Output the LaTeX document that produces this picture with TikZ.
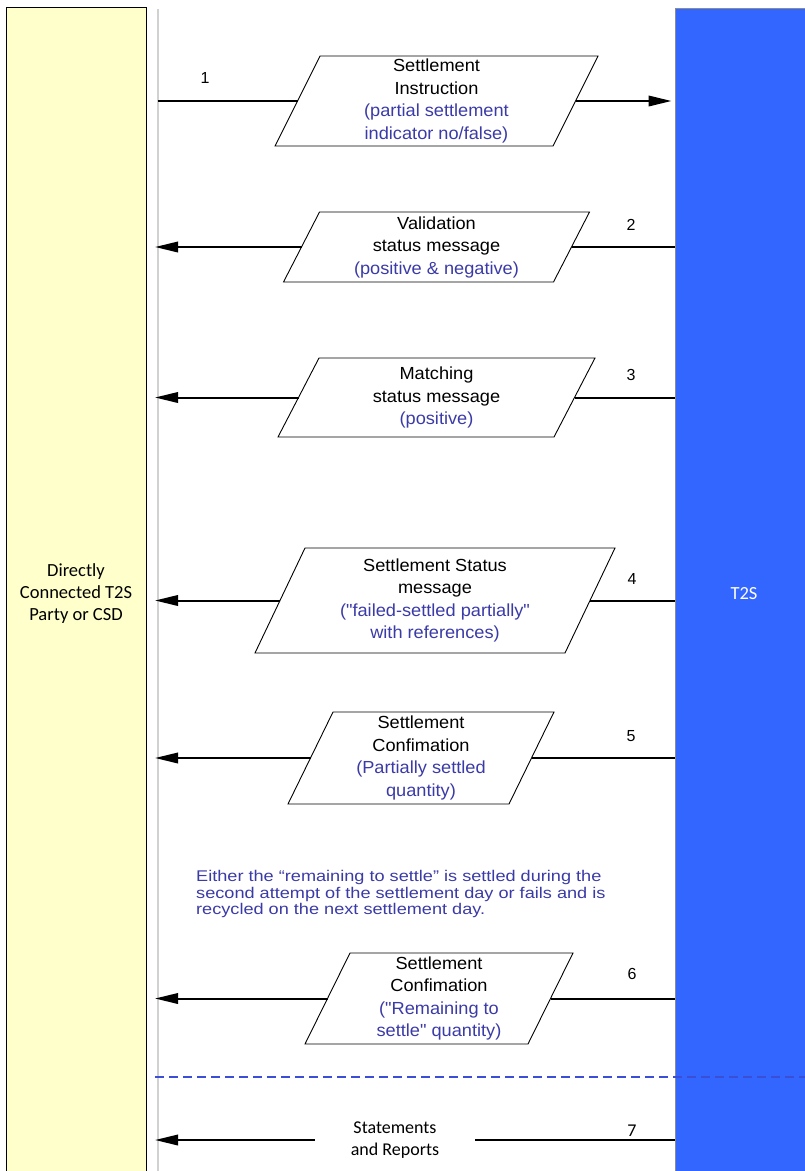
\documentclass[tikz,border=0pt]{standalone}
\usepackage{fontspec}
\setmainfont{Liberation Sans}
\newfontfamily\calib{Carlito}
\newfontfamily\arialw{Liberation Sans}[FakeStretch=1.04]
\newfontfamily\blockf{Liberation Sans}[FakeStretch=1.17]
\usetikzlibrary{arrows.meta}
\definecolor{ylw}{HTML}{FFFFCC}
\definecolor{tblue}{HTML}{3366FF}
\definecolor{txtblue}{HTML}{3B3BA8}
\definecolor{dashblue}{HTML}{3A4FD6}
\tikzset{
  pbox/.style={draw=black, line width=0.9pt, fill=white},
  ptext/.style={font=\arialw\fontsize{17.5}{22.5}\selectfont, align=center, inner sep=0pt},
  conn/.style={draw=black, line width=2pt},
  tipped/.style={-{Triangle[length=23pt,width=10.5pt]}},
  numlbl/.style={font=\fontsize{16}{19}\selectfont, inner sep=0pt},
  lane/.style={draw=black!18, line width=2pt},
  sepline/.style={draw=dashblue, line width=1.3pt, dash pattern=on 9pt off 5pt},
  note/.style={font=\blockf\fontsize{15.5}{16.6}\selectfont, text=txtblue, align=left, inner sep=0pt},
  collabel/.style={font=\calib\fontsize{18.5}{21.7}\selectfont, align=center, inner sep=0pt}
}
\newcommand\pgram[7]{%
  \draw[pbox] ({#2-#4/2+#6/2},{#3-#5/2}) -- ({#2+#4/2+#6/2},{#3-#5/2}) -- ({#2+#4/2-#6/2},{#3+#5/2}) -- ({#2-#4/2-#6/2},{#3+#5/2}) -- cycle;
  \coordinate (#1w) at ({#2-#4/2},#3);
  \coordinate (#1e) at ({#2+#4/2},#3);
  \node[ptext] (#1) at (#2,#3) {#7};
}
\newcommand\bl[1]{\textcolor{txtblue}{#1}}
\begin{document}
\begin{tikzpicture}[x=1pt,y=-1pt]
\useasboundingbox (0,0) rectangle (804,1171);
\fill[white] (0,0) rectangle (804,1171);
% columns
\node[draw=black, line width=0.8pt, fill=ylw, minimum width=140pt, minimum height=1173pt, inner sep=0pt, collabel] (party) at (76,593.5) {Directly\\Connected T2S\\Party or CSD};
\node[draw=black!45, line width=1pt, fill=tblue, minimum width=138pt, minimum height=1172pt, inner sep=0pt, collabel, text=white] (t2s) at (744,594) {T2S};
% lifeline
\coordinate (laneTop) at (157.5,9);
\coordinate (laneBot) at (157.5,1180);
\draw[lane] (laneTop) -- (laneBot);
% parallelograms
\pgram{p1}{436.5}{101}{278}{90}{45}{Settlement\\Instruction\\\bl{(partial settlement}\\\bl{indicator no/false)}}
\pgram{p2}{436.5}{247}{270}{70}{36}{Validation\\status message\\\bl{(positive \& negative)}}
\pgram{p3}{436.5}{397.5}{276}{79}{41}{Matching\\status message\\\bl{(positive)}}
\pgram{p4}{435}{600.5}{310}{105}{50}{Settlement Status\\message\\\bl{("failed-settled partially"}\\\bl{with references)}}
\pgram{p5}{421}{758}{221}{92}{45}{Settlement\\Confimation\\\bl{(Partially settled}\\\bl{quantity)}}
\pgram{p6}{439}{998.5}{223}{91}{45}{Settlement\\Confimation\\\bl{("Remaining to}\\\bl{settle" quantity)}}
% connectors
\draw[conn] (laneTop |- p1w) -- (p1w);
\draw[conn,tipped,shorten >=3pt] (p1e) -- (t2s.west |- p1e);
\foreach \p in {p2,p3,p4,p5,p6}{
  \draw[conn] (t2s.west |- \p e) -- (\p e);
  \draw[conn,tipped,shorten >=-2.5pt] (\p w) -- (laneTop |- \p w);
}
% numbers
\node[numlbl] (n1) at (205,78) {1};
\node[numlbl] (n2) at (631,225) {2};
\node[numlbl] (n3) at (631,375) {3};
\node[numlbl] (n4) at (632,579) {4};
\node[numlbl] (n5) at (631,736) {5};
\node[numlbl] (n6) at (632,974) {6};
\node[numlbl, font=\calib\fontsize{18}{21}\selectfont] (n7) at (632,1131) {7};
% note
\node[note, anchor=north west] (note) at (196,870) {Either the “remaining to settle” is settled during the\\second attempt of the settlement day or fails and is\\recycled on the next settlement day.};
% separator
\coordinate (sepL) at (155,1077);
\draw[sepline] (sepL) -- (sepL -| t2s.east);
% statements
\node[collabel, font=\calib\fontsize{18}{22}\selectfont, inner xsep=36pt] (stm) at (395,1140) {Statements\\and Reports};
\draw[conn] (t2s.west |- stm.east) -- (stm.east);
\draw[conn,tipped,shorten >=-2.5pt] (stm.west) -- (laneTop |- stm.west);
\end{tikzpicture}
\end{document}
